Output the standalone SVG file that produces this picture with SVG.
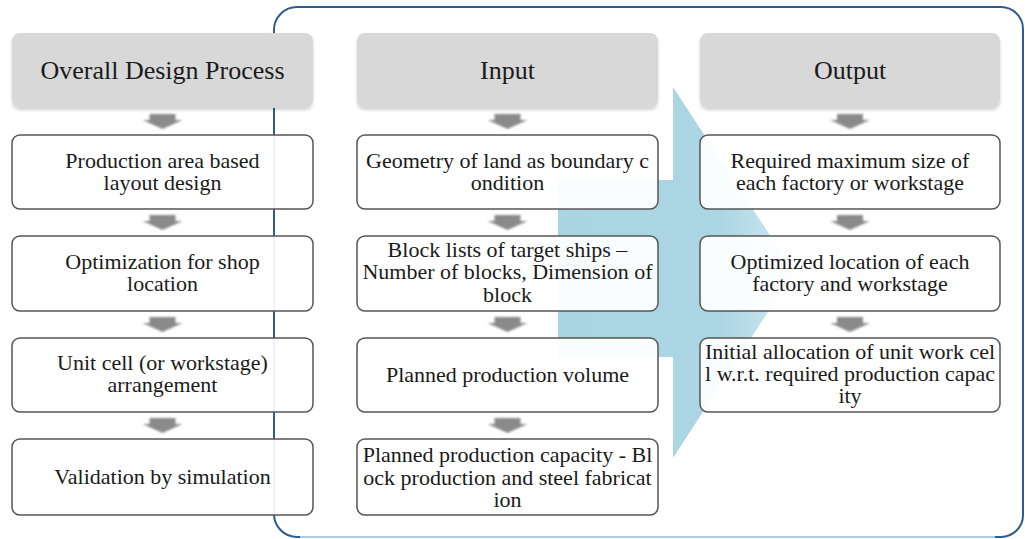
<svg xmlns="http://www.w3.org/2000/svg" width="1025" height="539" viewBox="0 0 1025 539">
<style>
.hdr{fill:#d8d8d8;stroke:none}
.box{fill:#ffffff;fill-opacity:0.93;stroke:#555555;stroke-width:1.5}
.t{font-family:"Liberation Serif","Times New Roman",serif;fill:#1a1a1a;text-anchor:middle}
.th{font-size:26px}
.tb{font-size:22px}
.sa{fill:#8a8a8a;filter:url(#soft)}
</style>
<defs>
<filter id="soft" x="-30%" y="-50%" width="160%" height="200%"><feGaussianBlur stdDeviation="0.9"/></filter>
<filter id="shadow" x="-5%" y="-10%" width="110%" height="130%"><feDropShadow dx="0" dy="2" stdDeviation="1.5" flood-color="#000" flood-opacity="0.18"/></filter>
<linearGradient id="arrowFill" x1="558" y1="0" x2="794" y2="0" gradientUnits="userSpaceOnUse">
<stop offset="0" stop-color="#a9d4e2"/>
<stop offset="0.7" stop-color="#add6e4"/>
<stop offset="1" stop-color="#cfe8f0"/>
</linearGradient>
<linearGradient id="frameStroke" x1="0" y1="7" x2="0" y2="538" gradientUnits="userSpaceOnUse">
<stop offset="0" stop-color="#2f5b8c"/>
<stop offset="0.9" stop-color="#3a6898"/>
<stop offset="1" stop-color="#8fb8dc"/>
</linearGradient>
</defs>
<rect width="1025" height="539" fill="#ffffff"/>
<g id="frame">
<path d="M297,7 H1001 A22,22 0 0 1 1023,29 V515 A22,22 0 0 1 1001,537 H297 A23,23 0 0 1 274,514 V30 A23,23 0 0 1 297,7 Z" fill="none" stroke="#305c8d" stroke-width="2"/>
<path d="M300,537 H995" fill="none" stroke="#a9cbe8" stroke-width="2"/>
</g>
<g id="bigArrow">
<polygon points="558,180 673,180 673,87 794,272 673,458 673,357 558,357" fill="url(#arrowFill)"/>
</g>
<g id="connectors">
<polygon class="sa" points="149.5,114 175.5,114 175.5,120 182.5,120 162.5,129 142.5,120 149.5,120"/>
<polygon class="sa" points="149.5,215 175.5,215 175.5,221 182.5,221 162.5,230 142.5,221 149.5,221"/>
<polygon class="sa" points="149.5,317 175.5,317 175.5,323 182.5,323 162.5,332 142.5,323 149.5,323"/>
<polygon class="sa" points="149.5,418 175.5,418 175.5,424 182.5,424 162.5,433 142.5,424 149.5,424"/>
<polygon class="sa" points="494.5,114 520.5,114 520.5,120 527.5,120 507.5,129 487.5,120 494.5,120"/>
<polygon class="sa" points="494.5,215 520.5,215 520.5,221 527.5,221 507.5,230 487.5,221 494.5,221"/>
<polygon class="sa" points="494.5,317 520.5,317 520.5,323 527.5,323 507.5,332 487.5,323 494.5,323"/>
<polygon class="sa" points="494.5,418 520.5,418 520.5,424 527.5,424 507.5,433 487.5,424 494.5,424"/>
<polygon class="sa" points="837,114 863,114 863,120 870,120 850,129 830,120 837,120"/>
<polygon class="sa" points="837,215 863,215 863,221 870,221 850,230 830,221 837,221"/>
<polygon class="sa" points="837,317 863,317 863,323 870,323 850,332 830,323 837,323"/>
</g>
<g id="hdr-overall">
<rect class="hdr" x="12" y="33" width="301" height="75" rx="8" filter="url(#shadow)"/>
<text class="t th" x="162.5" y="79">Overall Design Process</text>
</g>
<g id="hdr-input">
<rect class="hdr" x="357" y="33" width="301" height="75" rx="8" filter="url(#shadow)"/>
<text class="t th" x="507.5" y="79">Input</text>
</g>
<g id="hdr-output">
<rect class="hdr" x="700" y="33" width="300" height="75" rx="8" filter="url(#shadow)"/>
<text class="t th" x="850" y="79">Output</text>
</g>
<g id="p1">
<rect class="box" x="12" y="135" width="301" height="74" rx="8"/>
<text class="t tb" x="162.5" y="167.5">Production area based</text>
<text class="t tb" x="162.5" y="190">layout design</text>
</g>
<g id="p2">
<rect class="box" x="12" y="236" width="301" height="75" rx="8"/>
<text class="t tb" x="162.5" y="268.5">Optimization for shop</text>
<text class="t tb" x="162.5" y="291">location</text>
</g>
<g id="p3">
<rect class="box" x="12" y="338" width="301" height="74" rx="8"/>
<text class="t tb" x="162.5" y="369.5">Unit cell (or workstage)</text>
<text class="t tb" x="162.5" y="392">arrangement</text>
</g>
<g id="p4">
<rect class="box" x="12" y="439" width="301" height="76" rx="8"/>
<text class="t tb" x="162.5" y="484">Validation by simulation</text>
</g>
<g id="i1">
<rect class="box" x="357" y="135" width="301" height="74" rx="8"/>
<text class="t tb" x="507.5" y="167.5">Geometry of land as boundary c</text>
<text class="t tb" x="507.5" y="190">ondition</text>
</g>
<g id="i2">
<rect class="box" x="357" y="236" width="301" height="75" rx="8"/>
<text class="t tb" x="507.5" y="256.5">Block lists of target ships –</text>
<text class="t tb" x="507.5" y="279">Number of blocks, Dimension of</text>
<text class="t tb" x="507.5" y="301.5">block</text>
</g>
<g id="i3">
<rect class="box" x="357" y="338" width="301" height="74" rx="8"/>
<text class="t tb" x="507.5" y="382">Planned production volume</text>
</g>
<g id="i4">
<rect class="box" x="357" y="439" width="301" height="76" rx="8"/>
<text class="t tb" x="507.5" y="462">Planned production capacity - Bl</text>
<text class="t tb" x="507.5" y="484.5">ock production and steel fabricat</text>
<text class="t tb" x="507.5" y="507">ion</text>
</g>
<g id="o1">
<rect class="box" x="700" y="135" width="300" height="74" rx="8"/>
<text class="t tb" x="850" y="167.5">Required maximum size of</text>
<text class="t tb" x="850" y="190">each factory or workstage</text>
</g>
<g id="o2">
<rect class="box" x="700" y="236" width="300" height="75" rx="8"/>
<text class="t tb" x="850" y="268.5">Optimized location of each</text>
<text class="t tb" x="850" y="291">factory and workstage</text>
</g>
<g id="o3">
<rect class="box" x="700" y="338" width="300" height="74" rx="8"/>
<text class="t tb" x="850" y="358.5">Initial allocation of unit work cel</text>
<text class="t tb" x="850" y="381">l w.r.t. required production capac</text>
<text class="t tb" x="850" y="403">ity</text>
</g>
</svg>
